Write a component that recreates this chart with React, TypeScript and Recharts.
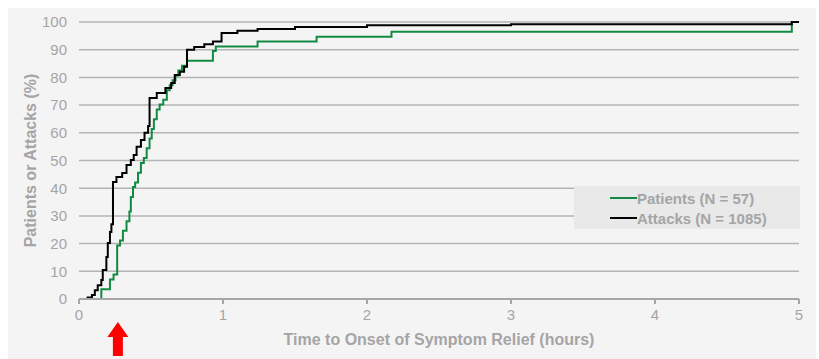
import {
  LineChart,
  Line,
  XAxis,
  YAxis,
  CartesianGrid,
  Legend,
  ReferenceDot,
} from "recharts";

const FONT = "'Liberation Sans Narrow', 'Arial Narrow', 'Liberation Sans', Arial, sans-serif";
const TEXT_GRAY = "#a5a5a5";
const GREEN = "#138a43";

// Kaplan-Meier style cumulative curves: time (hours) -> percent
const patientTimes = [
  0, 0.155, 0.215, 0.24, 0.265, 0.285, 0.305, 0.33, 0.35, 0.36, 0.375, 0.39, 0.41,
  0.43, 0.45, 0.47, 0.49, 0.505, 0.52, 0.54, 0.56, 0.585, 0.61, 0.63, 0.65, 0.67,
  0.69, 0.715, 0.75, 0.93, 0.95, 1.24, 1.65, 2.17, 4.95, 5,
];
const patientPct = [
  0, 3.5, 7.0, 8.8, 19.3, 21.1, 24.6, 28.1, 31.6, 36.8, 40.4, 42.1, 45.6, 49.1,
  50.9, 54.4, 57.9, 61.4, 64.9, 68.4, 70.2, 71.9, 75.4, 77.2, 79.0, 80.7, 82.5,
  84.2, 86.0, 89.5, 91.2, 93.0, 94.7, 96.5, 100, 100,
];

const attackTimes = [
  0, 0.06, 0.09, 0.11, 0.13, 0.155, 0.165, 0.19, 0.2, 0.215, 0.225, 0.236, 0.26,
  0.3, 0.33, 0.36, 0.38, 0.4, 0.43, 0.455, 0.48, 0.49, 0.54, 0.6, 0.64, 0.665, 0.7,
  0.73, 0.75, 0.8, 0.87, 0.93, 0.99, 1.1, 1.24, 1.5, 2.0, 3.0, 4.95, 5,
];
const attackPct = [
  0, 0.5, 1.4, 3.2, 5.0, 6.9, 10.5, 15.2, 20.2, 24.2, 27.0, 42.2, 44.0, 45.5, 48.4,
  50.2, 52.0, 55.0, 57.4, 60.0, 62.5, 72.6, 74.4, 76.2, 78.0, 80.9, 82.0, 83.8,
  90.0, 91.0, 92.0, 93.0, 96.0, 96.8, 97.5, 98.2, 98.8, 99.2, 100, 100,
];

const xTicks = [0, 1, 2, 3, 4, 5];
const yTicks = [0, 10, 20, 30, 40, 50, 60, 70, 80, 90, 100];

const seriesInfo = [
  { name: "Patients (N = 57)", color: GREEN },
  { name: "Attacks (N = 1085)", color: "#000000" },
];

const patients = patientTimes.map((t, i) => ({ t, v: patientPct[i] }));
const attacks = attackTimes.map((t, i) => ({ t, v: attackPct[i] }));

function LegendBox() {
  return (
    <div
      style={{
        width: 226,
        height: 43,
        background: "#e9e9e9",
        fontFamily: FONT,
        fontWeight: "bold",
        fontSize: 15,
        color: TEXT_GRAY,
        boxSizing: "border-box",
        paddingTop: 2,
      }}
    >
      {seriesInfo.map((s) => (
        <div key={s.name} style={{ display: "flex", alignItems: "center", height: 20, marginLeft: 36 }}>
          <span style={{ display: "inline-block", width: 27, height: 2.5, background: s.color }} />
          <span>{s.name}</span>
        </div>
      ))}
    </div>
  );
}

function RedArrow(props: { cx?: number; cy?: number }) {
  const cx = props.cx ?? 0;
  const cy = props.cy ?? 0;
  const pts = [
    [cx, cy + 23],
    [cx + 10.5, cy + 38],
    [cx + 5, cy + 38],
    [cx + 5, cy + 57],
    [cx - 5, cy + 57],
    [cx - 5, cy + 38],
    [cx - 10.5, cy + 38],
  ]
    .map((p) => p.join(","))
    .join(" ");
  return <polygon points={pts} fill="#ff0000" />;
}

export default function App() {
  return (
    <div style={{ position: "absolute", left: 0, top: 0, width: 819, height: 359, background: "#ffffff" }}>
      <div style={{ position: "absolute", left: 8, top: 8, width: 808, height: 351, background: "#f5f4f5" }} />
      <div style={{ position: "absolute", left: 0, top: 0 }}>
        <LineChart width={819} height={359} margin={{ top: 22, right: 20, left: 0, bottom: 0 }}>
          <CartesianGrid vertical={false} stroke="#b4b4b4" strokeWidth={1.5} />
          <XAxis
            dataKey="t"
            type="number"
            domain={[0, 5]}
            ticks={xTicks}
            allowDuplicatedCategory={false}
            height={60}
            stroke="#a6a6a6"
            strokeWidth={2}
            tickSize={5}
            tickMargin={5}
            tick={{ fill: TEXT_GRAY, fontSize: 15, fontFamily: FONT }}
            label={{
              value: "Time to Onset of Symptom Relief (hours)",
              position: "insideBottom",
              offset: 14,
              style: { fill: TEXT_GRAY, fontSize: 16, fontWeight: "bold", fontFamily: FONT },
            }}
          />
          <YAxis
            type="number"
            domain={[0, 100]}
            ticks={yTicks}
            width={79}
            axisLine={false}
            tickLine={false}
            tickMargin={6}
            tick={{ fill: TEXT_GRAY, fontSize: 15, fontFamily: FONT }}
            label={{
              value: "Patients or Attacks (%)",
              angle: -90,
              position: "insideLeft",
              offset: 30,
              style: { fill: TEXT_GRAY, fontSize: 16, fontWeight: "bold", fontFamily: FONT, textAnchor: "middle" },
            }}
          />
          <Legend
            layout="vertical"
            align="center"
            verticalAlign="middle"
            wrapperStyle={{ left: 574, top: 186, width: 226, height: 43 }}
            content={() => <LegendBox />}
          />
          <Line
            data={patients}
            dataKey="v"
            name={seriesInfo[0].name}
            type="stepAfter"
            stroke={GREEN}
            strokeWidth={2}
            dot={false}
            isAnimationActive={false}
          />
          <Line
            data={attacks}
            dataKey="v"
            name={seriesInfo[1].name}
            type="stepAfter"
            stroke="#000000"
            strokeWidth={2}
            dot={false}
            isAnimationActive={false}
          />
          <ReferenceDot x={0.27} y={0} ifOverflow="visible" shape={(p: any) => <RedArrow cx={p.cx} cy={p.cy} />} />
        </LineChart>
      </div>
    </div>
  );
}
